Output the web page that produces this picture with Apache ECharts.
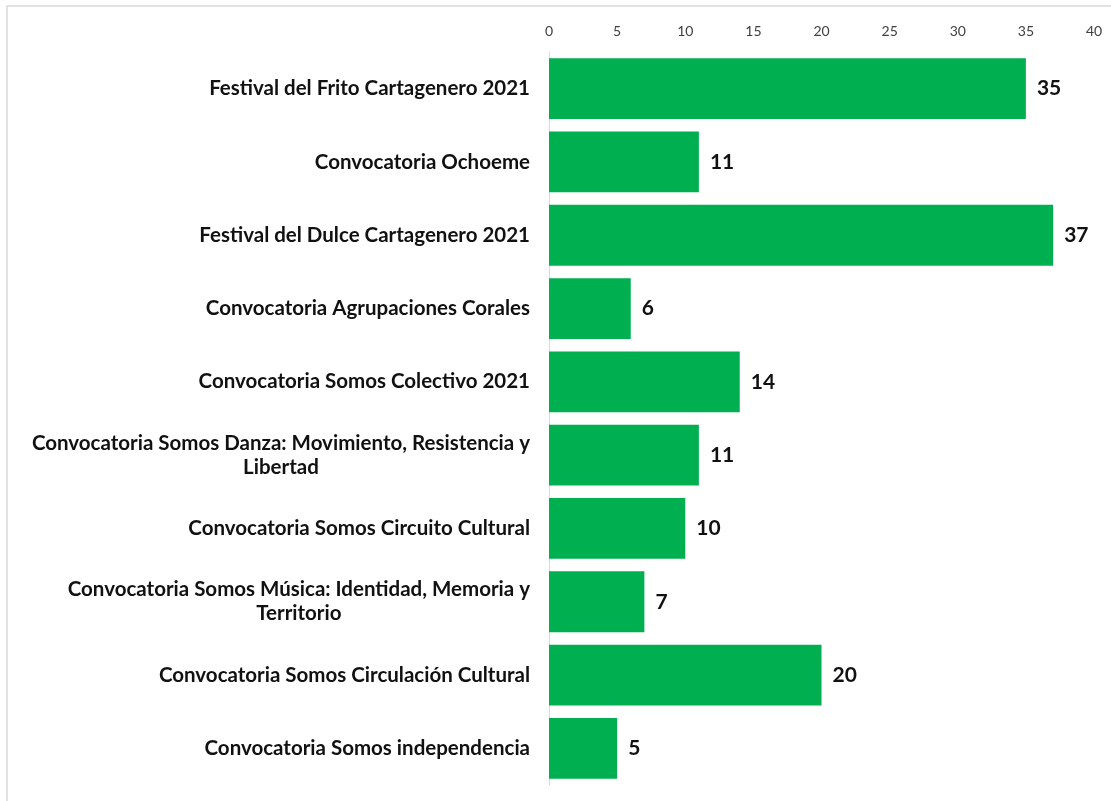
<!DOCTYPE html>
<html><head><meta charset="utf-8">
<script src="https://cdn.jsdelivr.net/npm/echarts@6/dist/echarts.min.js"></script>
<style>html,body{margin:0;padding:0;background:#fff}#c{width:1111px;height:801px}</style>
</head><body><div id="c"></div>
<script>
const categories = [
  'Festival del Frito Cartagenero 2021',
  'Convocatoria Ochoeme',
  'Festival del Dulce Cartagenero 2021',
  'Convocatoria Agrupaciones Corales',
  'Convocatoria Somos Colectivo 2021',
  'Convocatoria Somos Danza: Movimiento, Resistencia y\nLibertad',
  'Convocatoria Somos Circuito Cultural',
  'Convocatoria Somos Música: Identidad, Memoria y\nTerritorio',
  'Convocatoria Somos Circulación Cultural',
  'Convocatoria Somos independencia'
];
const values = [35, 11, 37, 6, 14, 11, 10, 7, 20, 5];
const axisMin = 0, axisMax = 40, axisStep = 5;

const catFont = {color: '#111', fontFamily: 'Lato', fontWeight: 'bold', fontSize: 20.5, lineHeight: 24};

const chart = echarts.init(document.getElementById('c'), null, {renderer: 'canvas'});
chart.setOption({
  animation: false,
  backgroundColor: '#fff',
  graphic: [{
    type: 'rect', shape: {x: 7, y: 6, width: 1200, height: 900},
    style: {fill: 'none', stroke: '#d9d9d9', lineWidth: 1.5}, silent: true, z: -1
  }],
  grid: {left: 549, right: 17, top: 52, bottom: 16, containLabel: false},
  xAxis: {
    type: 'value', position: 'top', min: axisMin, max: axisMax, interval: axisStep,
    axisLine: {show: false}, axisTick: {show: false}, splitLine: {show: false},
    axisLabel: {color: '#404040', fontFamily: 'Lato', fontSize: 14, margin: 14}
  },
  yAxis: {
    type: 'category', data: categories, inverse: true,
    axisLine: {show: true, lineStyle: {color: '#d9d9d9', width: 1}},
    axisTick: {show: false},
    axisLabel: Object.assign({}, catFont, {
      margin: 19, align: 'right',
      formatter: v => v.split('\n').map(s => '{c|' + s + '}').join('\n'),
      rich: {c: Object.assign({}, catFont, {align: 'center'})}
    })
  },
  series: [{
    type: 'bar', data: values, barCategoryGap: '17%',
    itemStyle: {color: '#00b050'},
    label: {show: true, position: 'right', distance: 11, color: '#111',
      fontFamily: 'Lato', fontWeight: 'bold', fontSize: 21}
  }]
});
</script></body></html>
